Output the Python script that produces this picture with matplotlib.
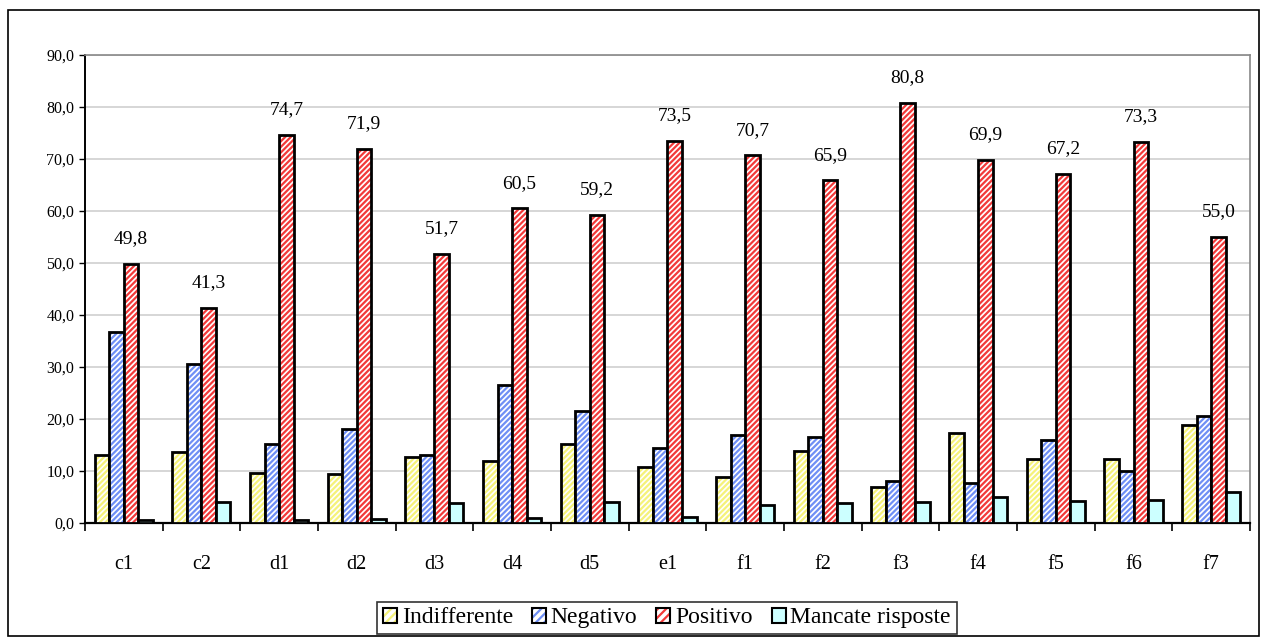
import matplotlib.pyplot as plt
import matplotlib.patches as mpatches
from matplotlib.colors import to_rgba
from matplotlib.ticker import FuncFormatter
import numpy as np

categories = ["c1", "c2", "d1", "d2", "d3", "d4", "d5", "e1", "f1", "f2", "f3", "f4", "f5", "f6", "f7"]
indifferente = [13.1, 13.7, 9.6, 9.5, 12.6, 12.0, 15.2, 10.8, 8.8, 13.8, 6.9, 17.3, 12.3, 12.3, 18.8]
negativo = [36.7, 30.6, 15.2, 18.0, 13.1, 26.5, 21.5, 14.5, 17.0, 16.5, 8.0, 7.6, 16.0, 9.9, 20.6]
positivo = [49.8, 41.3, 74.7, 71.9, 51.7, 60.5, 59.2, 73.5, 70.7, 65.9, 80.8, 69.9, 67.2, 73.3, 55.0]
mancate = [0.5, 4.0, 0.6, 0.7, 3.8, 1.0, 4.1, 1.2, 3.5, 3.8, 4.1, 5.0, 4.3, 4.4, 6.0]

# name, values, fill colour, hatch colour
series = [
    ("Indifferente", indifferente, "white", "#f5f27a"),
    ("Negativo", negativo, "white", "#6f8ff5"),
    ("Positivo", positivo, "white", "#f23a3a"),
    ("Mancate risposte", mancate, "#ccffff", None),
]

plt.rcParams['font.family'] = ['Liberation Serif', 'DejaVu Serif']
plt.rcParams['hatch.linewidth'] = 1.6

fig = plt.figure(figsize=(12.67, 6.44), dpi=100)
ax = fig.add_axes([0.067, 0.188, 0.9196, 0.7266])

x = np.arange(len(categories))
w = 0.187
handles = []
for i, (name, vals, fc, hc) in enumerate(series):
    pos = x + (i - 1.5) * w
    bars = ax.bar(pos, vals, w, color=fc, edgecolor="black", linewidth=2,
                  hatch="//////" if hc else None, zorder=3)
    h = mpatches.Patch(facecolor=fc, edgecolor="black", linewidth=1.5,
                       hatch="////" if hc else None, label=name)
    # coloured hatch lines with a black outline
    if hc:
        for b in bars:
            b._hatch_color = to_rgba(hc)
        h._hatch_color = to_rgba(hc)
    handles.append(h)

# value labels for Positivo
for xi, v in zip(x, positivo):
    ax.text(xi + 0.5 * w, v + 3.2, f"{v:.1f}".replace(".", ","), ha="center", va="bottom", fontsize=14)

ax.set_xlim(-0.5, len(categories) - 0.5)
ax.set_ylim(0, 90)
ax.set_yticks(np.arange(0, 91, 10))
ax.yaxis.set_major_formatter(FuncFormatter(lambda v, p: f"{v:.1f}".replace(".", ",")))
ax.tick_params(axis="y", labelsize=11.5, length=4, direction="out", width=1)
ax.grid(axis="y", color="#d0d0d0", linewidth=1.2, zorder=0)

ax.set_xticks(x)
ax.set_xticklabels(categories, fontsize=14.5)
ax.set_xticks(np.arange(-0.5, len(categories)), minor=True)
ax.tick_params(axis="x", which="major", length=0, pad=23)
ax.tick_params(axis="x", which="minor", length=6, width=1.2, direction="out")

for s in ["top", "right"]:
    ax.spines[s].set_color("#888888")
    ax.spines[s].set_linewidth(1.2)
ax.spines["left"].set_linewidth(1.4)
ax.spines["bottom"].set_linewidth(1.6)

leg = fig.legend(handles=handles, loc="center", bbox_to_anchor=(0.5264, 0.0404), ncol=4, fontsize=17,
                 frameon=True, fancybox=False, edgecolor="black", handlelength=0.6, handleheight=0.6,
                 handletextpad=0.2, columnspacing=0.8, borderpad=0.25)
leg.get_frame().set_linewidth(1.2)
for lh, h in zip(leg.legend_handles, handles):
    lh._hatch_color = h._hatch_color

# outer chart border
fig.patches.append(mpatches.Rectangle((8 / 1267, 8 / 644), 1251 / 1267, 626 / 644, transform=fig.transFigure,
                                      fill=False, edgecolor="black", linewidth=1.2))

fig.savefig("out.png", dpi=100)
